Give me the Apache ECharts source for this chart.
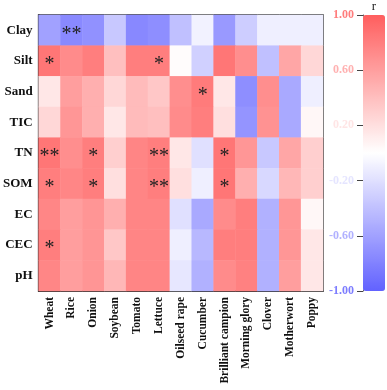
<!DOCTYPE html>
<html>
<head>
<meta charset="utf-8">
<script src="https://cdn.jsdelivr.net/npm/echarts@6/dist/echarts.min.js"></script>
<style>
  html, body { margin: 0; padding: 0; background: #fff; }
  #main { width: 387px; height: 390px; }
</style>
</head>
<body>
<div id="main"></div>
<script>
// crops along x, soil properties along y
const crops = ['Wheat', 'Rice', 'Onion', 'Soybean', 'Tomato', 'Lettuce', 'Oilseed rape',
  'Cucumber', 'Brilliant campion', 'Morning glory', 'Clover', 'Motherwort', 'Poppy'];
const props = ['Clay', 'Silt', 'Sand', 'TIC', 'TN', 'SOM', 'EC', 'CEC', 'pH'];

// correlation r, one row per property (same order as props)
const rClay = [-0.60, -0.75, -0.70, -0.35, -0.76, -0.72, -0.40, -0.08, -0.65, -0.32, -0.10, -0.10, -0.10];
const rSilt = [0.85, 0.72, 0.80, 0.40, 0.80, 0.80, 0.02, -0.30, 0.85, 0.70, -0.40, 0.55, 0.25];
const rSand = [0.15, 0.60, 0.50, 0.25, 0.42, 0.35, 0.70, 0.82, 0.15, -0.72, 0.70, -0.55, -0.10];
const rTIC = [0.25, 0.65, 0.50, 0.15, 0.42, 0.40, 0.72, 0.80, 0.20, -0.68, 0.68, -0.55, 0.05];
const rTN = [0.85, 0.70, 0.80, 0.30, 0.76, 0.80, 0.15, -0.20, 0.85, 0.65, -0.35, 0.55, 0.30];
const rSOM = [0.80, 0.75, 0.80, 0.20, 0.76, 0.80, 0.20, -0.10, 0.85, 0.50, -0.25, 0.45, 0.30];
const rEC = [0.75, 0.60, 0.66, 0.50, 0.76, 0.76, -0.20, -0.55, 0.72, 0.80, -0.50, 0.65, 0.05];
const rCEC = [0.80, 0.60, 0.66, 0.35, 0.76, 0.76, -0.10, -0.45, 0.80, 0.80, -0.50, 0.65, 0.15];
const rPH = [0.75, 0.60, 0.66, 0.45, 0.76, 0.76, -0.15, -0.50, 0.72, 0.78, -0.50, 0.60, 0.15];

// significance marks
const sigClay = ['', '**', '', '', '', '', '', '', '', '', '', '', ''];
const sigSilt = ['*', '', '', '', '', '*', '', '', '', '', '', '', ''];
const sigSand = ['', '', '', '', '', '', '', '*', '', '', '', '', ''];
const sigTIC = ['', '', '', '', '', '', '', '', '', '', '', '', ''];
const sigTN = ['**', '', '*', '', '', '**', '', '', '*', '', '', '', ''];
const sigSOM = ['*', '', '*', '', '', '**', '', '', '*', '', '', '', ''];
const sigEC = ['', '', '', '', '', '', '', '', '', '', '', '', ''];
const sigCEC = ['*', '', '', '', '', '', '', '', '', '', '', '', ''];
const sigPH = ['', '', '', '', '', '', '', '', '', '', '', '', ''];

const rRows = [rClay, rSilt, rSand, rTIC, rTN, rSOM, rEC, rCEC, rPH];
const sigRows = [sigClay, sigSilt, sigSand, sigTIC, sigTN, sigSOM, sigEC, sigCEC, sigPH];

const cells = [];
rRows.forEach((row, y) => {
  row.forEach((v, x) => {
    cells.push({ value: [x, y, v], sig: sigRows[y][x] });
  });
});

const serif = '"Liberation Serif", "Times New Roman", serif';

// colour bar tick labels follow the colour scale, a bit paler
function tickColor(v) {
  v = parseFloat(v);
  const t = Math.min(1, Math.abs(v));
  const c = Math.round(255 - t * 130);
  return v >= 0 ? `rgb(255,${c},${c})` : `rgb(${c},${c},255)`;
}

const chart = echarts.init(document.getElementById('main'));
chart.setOption({
  backgroundColor: '#fff',
  animation: false,
  grid: [
    { left: 37, top: 15, width: 286, height: 276, show: true, borderColor: '#222', borderWidth: 1.5 },
    { left: 363, top: 15, width: 22, height: 276 }
  ],
  xAxis: [
    {
      type: 'category', data: crops, gridIndex: 0,
      axisLine: { lineStyle: { color: '#222', width: 1.5 } },
      axisTick: { alignWithLabel: true, length: 4, lineStyle: { color: '#222' } },
      axisLabel: { rotate: 90, color: '#111', fontFamily: serif, fontWeight: 'bold', fontSize: 11.5, margin: 6 },
      splitLine: { show: false }
    },
    { type: 'value', gridIndex: 1, show: false, min: 0, max: 1 }
  ],
  yAxis: [
    {
      type: 'category', data: props, gridIndex: 0, inverse: true,
      axisLine: { lineStyle: { color: '#222', width: 1.5 } },
      axisTick: { alignWithLabel: true, length: 4, lineStyle: { color: '#222' } },
      axisLabel: { color: '#111', fontFamily: serif, fontWeight: 'bold', fontSize: 13, margin: 6 },
      splitLine: { show: false }
    },
    {
      type: 'value', gridIndex: 1, min: -1, max: 1, interval: 0.4, position: 'left',
      name: 'r', nameLocation: 'end', nameGap: 2,
      nameTextStyle: { fontFamily: serif, fontSize: 13, color: '#222', align: 'center', padding: [0, 0, 0, 22] },
      axisLine: { show: true, lineStyle: { color: '#555', width: 1 } },
      axisTick: { show: true, length: 6, lineStyle: { color: '#444' } },
      axisLabel: {
        fontFamily: serif, fontWeight: 'bold', fontSize: 12, margin: 9,
        formatter: v => v.toFixed(2),
        color: v => tickColor(v)
      },
      splitLine: { show: false }
    }
  ],
  visualMap: [{
    type: 'continuous', min: -1, max: 1, seriesIndex: 0,
    orient: 'vertical', left: 358, top: 10, padding: 5,
    itemWidth: 22, itemHeight: 276, text: null, showLabel: false,
    calculable: false, hoverLink: false,
    inRange: { color: ['#6262ff', '#ffffff', '#ff5e5e'] }
  }],
  series: [{
    type: 'heatmap', xAxisIndex: 0, yAxisIndex: 0,
    data: cells,
    label: {
      show: true,
      formatter: p => p.data.sig,
      color: '#222', fontFamily: serif, fontSize: 20, offset: [0, 4]
    },
    itemStyle: { borderWidth: 0 },
    emphasis: { disabled: true }
  }]
});
</script>
</body>
</html>
